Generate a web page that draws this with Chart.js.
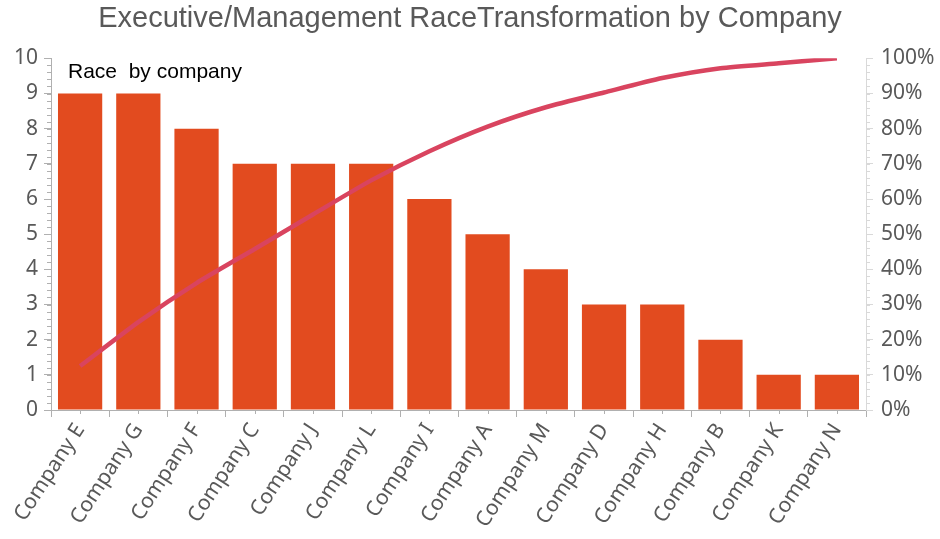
<!DOCTYPE html>
<html>
<head>
<meta charset="utf-8">
<script src="https://cdn.jsdelivr.net/npm/chart.js@4"></script>
<style>
  html, body { margin: 0; padding: 0; background: #fff; }
  #wrap { width: 940px; height: 539px; }
</style>
</head>
<body>
<div id="wrap"><canvas id="chart"></canvas></div>
<script>
// data
const companies = ["Company E", "Company G", "Company F", "Company C", "Company J", "Company L", "Company I",
  "Company A", "Company M", "Company D", "Company H", "Company B", "Company K", "Company N"];
const counts = [9, 9, 8, 7, 7, 7, 6, 5, 4, 3, 3, 2, 1, 1];
const cumulative = [0.125, 0.25, 0.361, 0.458, 0.556, 0.653, 0.736, 0.806, 0.861, 0.903, 0.944, 0.972, 0.986, 1.0];
const leftTicks = [0, 1, 2, 3, 4, 5, 6, 7, 8, 9, 10];

const tickFont = { family: "'Noto Sans', sans-serif", size: 21 };

// minor ticks on the value axes + short ticks at category centres
const extraTicks = {
  id: "extraTicks",
  afterDraw(chart) {
    const ctx = chart.ctx;
    const y = chart.scales.y, y1 = chart.scales.y1, x = chart.scales.x;
    ctx.save();
    ctx.lineWidth = 1;
    ctx.strokeStyle = "#b0b0b0";
    for (let v = 0; v <= 10.001; v += 0.2) {
      const py = Math.round(y.getPixelForValue(v)) + 0.5;
      ctx.beginPath();
      ctx.moveTo(y.right - 4, py);
      ctx.lineTo(y.right, py);
      ctx.stroke();
    }
    ctx.strokeStyle = "#d9d9d9";
    for (let v = 0; v <= 1.0001; v += 0.02) {
      const py = Math.round(y1.getPixelForValue(v)) + 0.5;
      ctx.beginPath();
      ctx.moveTo(y1.left, py);
      ctx.lineTo(y1.left + 4, py);
      ctx.stroke();
    }
    ctx.strokeStyle = "#b0b0b0";
    companies.forEach((c, i) => {
      const px = Math.round(x.getPixelForValue(i)) + 0.5;
      ctx.beginPath();
      ctx.moveTo(px, x.top);
      ctx.lineTo(px, x.top + 4);
      ctx.stroke();
    });
    // inner label
    ctx.fillStyle = "#000";
    ctx.font = "21px 'Liberation Sans', Arial, sans-serif";
    ctx.textBaseline = "middle";
    ctx.fillText("Race  by company", chart.chartArea.left + 17, chart.chartArea.top + 14);
    ctx.restore();
  }
};

new Chart(document.getElementById("chart").getContext("2d"), {
  data: {
    labels: companies,
    datasets: [
      {
        type: "line",
        label: "Cumulative",
        data: cumulative,
        yAxisID: "y1",
        borderColor: "#d9445f",
        borderWidth: 4.5,
        pointRadius: 0,
        tension: 0.2,
        fill: false,
        order: 0
      },
      {
        type: "bar",
        label: "Race by company",
        data: counts,
        yAxisID: "y",
        backgroundColor: "#e24b1f",
        barPercentage: 0.76,
        categoryPercentage: 1,
        order: 1
      }
    ]
  },
  options: {
    responsive: true,
    maintainAspectRatio: false,
    animation: false,
    layout: { padding: 0 },
    plugins: {
      legend: { display: false },
      tooltip: { enabled: false },
      title: {
        display: true,
        text: "Executive/Management RaceTransformation by Company",
        color: "#595959",
        font: { family: "'Liberation Sans', Arial, sans-serif", size: 29, weight: "normal", lineHeight: 1.15 },
        padding: { top: 2, bottom: 23 }
      }
    },
    scales: {
      x: {
        offset: true,
        grid: { offset: true, drawOnChartArea: false, tickLength: 7, color: "#b0b0b0" },
        border: { color: "#b0b0b0", width: 1 },
        ticks: { color: "#595959", font: tickFont, minRotation: 57, maxRotation: 57, padding: 2 },
        afterFit(s) { s.height = 129; }
      },
      y: {
        position: "left",
        min: 0,
        max: 10,
        afterBuildTicks(s) { s.ticks = leftTicks.map(v => ({ value: v })); },
        grid: { drawOnChartArea: false, tickLength: 7, color: "#b0b0b0" },
        border: { color: "#b0b0b0", width: 1 },
        ticks: { color: "#595959", font: tickFont, padding: 6 },
        afterFit(s) { s.width = 51; }
      },
      y1: {
        position: "right",
        min: 0,
        max: 1,
        ticks: {
          stepSize: 0.1,
          color: "#595959",
          font: tickFont,
          padding: 8,
          callback: v => Math.round(v * 100) + "%"
        },
        grid: { drawOnChartArea: false, tickLength: 7, color: "#d9d9d9" },
        border: { color: "#d9d9d9", width: 1 },
        afterFit(s) { s.width = 74; }
      }
    }
  },
  plugins: [extraTicks]
});
</script>
</body>
</html>
